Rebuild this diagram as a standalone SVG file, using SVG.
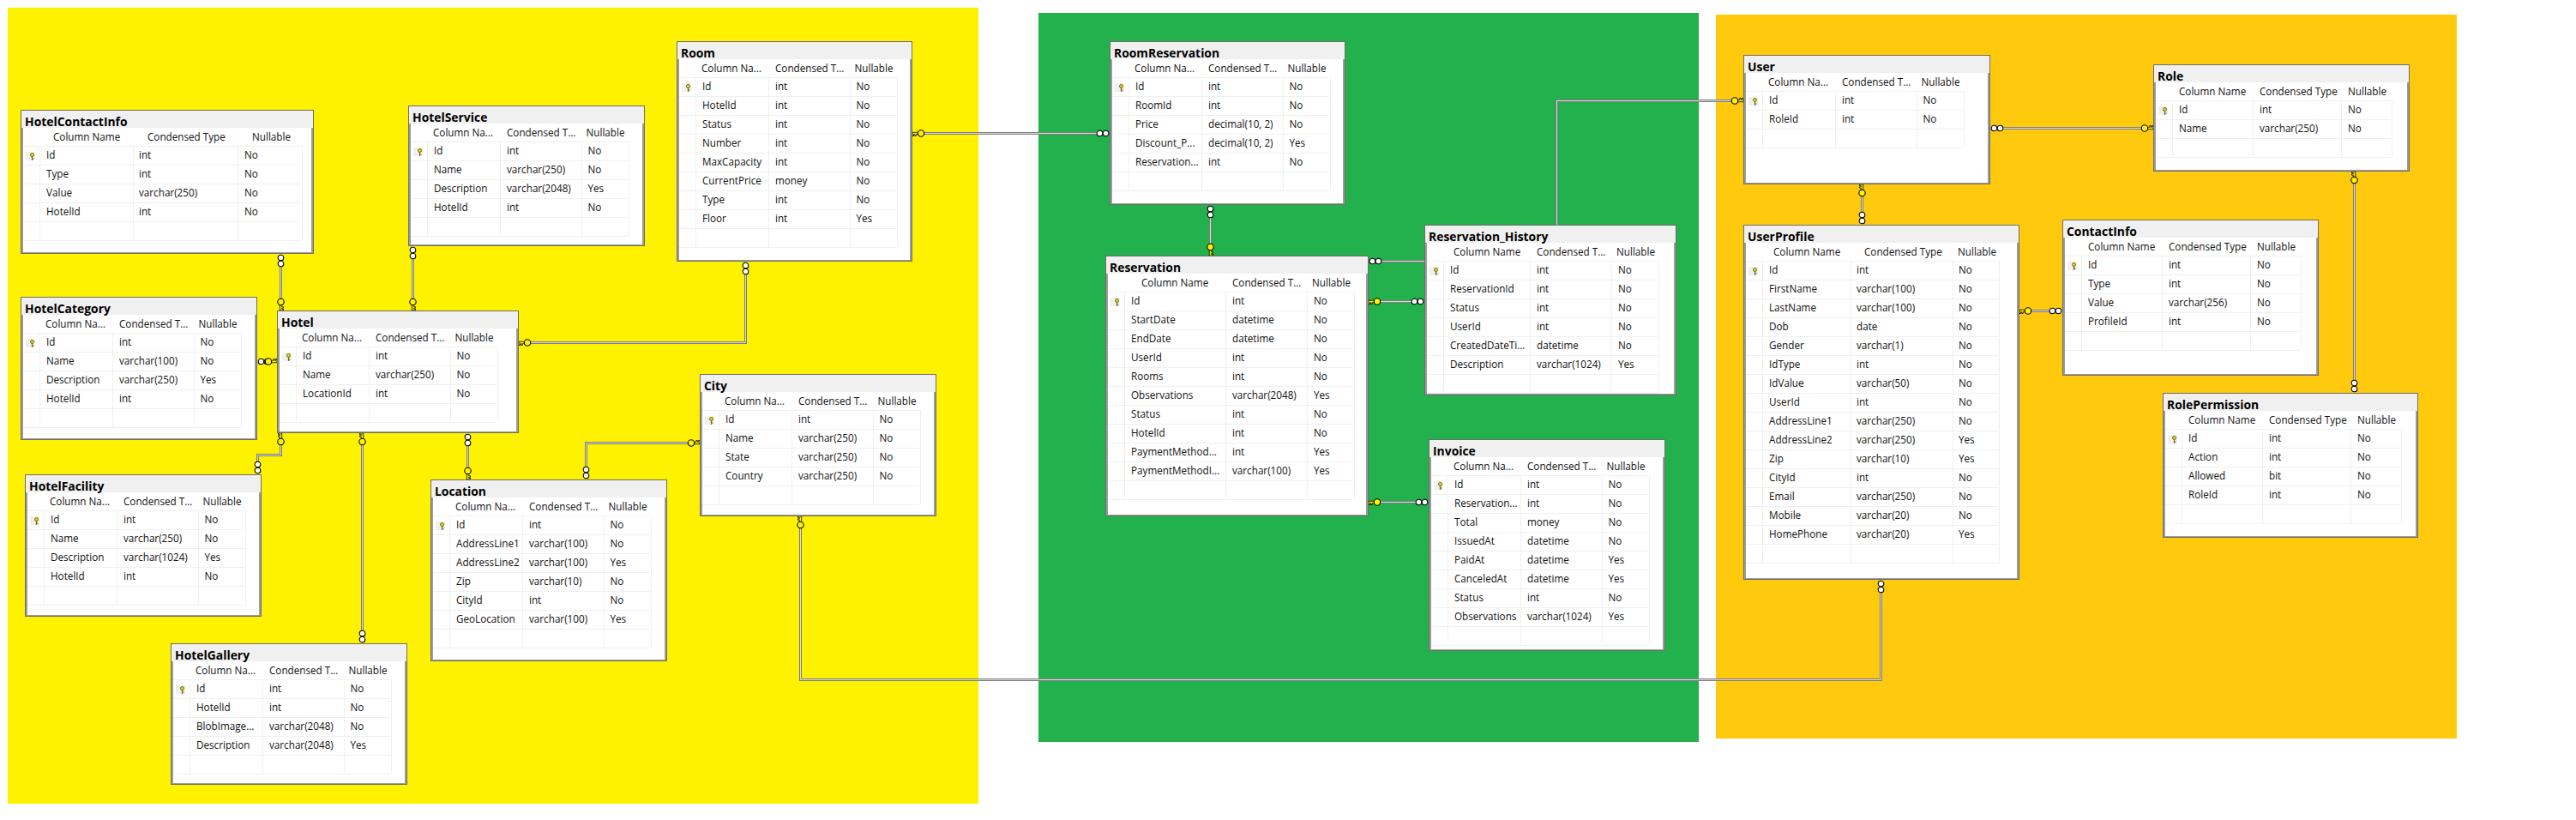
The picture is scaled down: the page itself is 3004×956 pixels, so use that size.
<svg xmlns="http://www.w3.org/2000/svg" width="3004" height="956" viewBox="0 0 3004 956">
<style>
text{font-family:"Open Sans","Liberation Sans",Arial,sans-serif;font-size:11.7px;fill:#111}
text.n{font-size:13.9px;font-weight:bold;fill:#000}
.o{fill:#9c9c9c;stroke:#6e6e6e;stroke-width:1;shape-rendering:crispEdges}
.tb{fill:#f0f0f0;shape-rendering:crispEdges}
.b{fill:#fff;shape-rendering:crispEdges}
.g{fill:none;stroke:#f0f0f0;stroke-width:1;shape-rendering:crispEdges}
.wo path{fill:none;stroke:#7c7c7c;stroke-width:3}
.wi path{fill:none;stroke:#dcdcdc;stroke-width:1}
</style>
<defs>
<g id="pk"><rect x="6" y="49" width="11" height="10" fill="#f0f0f0"/><circle cx="13.5" cy="52.5" r="2" fill="#e8d800" stroke="#6b6b10" stroke-width="1"/><path d="M13.5 54.5V59M13.5 57H15.5" fill="none" stroke="#6b6b10" stroke-width="1.2"/></g>
<g id="inf"><circle cx="4.5" cy="0" r="3.3" fill="#fff" stroke="#000" stroke-width="1.1"/><circle cx="11.5" cy="0" r="3.3" fill="#fff" stroke="#000" stroke-width="1.1"/></g>
<g id="key"><path d="M0 -1.2H6.5V1.2H4.2V3H2.8V1.2H1.6V3H0Z" fill="#fff200" stroke="#000" stroke-width=".8"/><circle cx="10" cy="0" r="3.7" fill="#fff200" stroke="#000" stroke-width="1.1"/></g>
</defs>
<rect width="3004" height="956" fill="#fff"/>
<g id="areas">
<rect x="9" y="9" width="1132" height="928" fill="#fff200"/>
<rect x="1211" y="15" width="770" height="850" fill="#22b14c"/>
<rect x="2001" y="17" width="864" height="844" fill="#ffc90e"/>
</g>
<g id="connectors">
<g class="wo">
<path d="M327.5 311V348.5"/><path d="M481.5 302V348.5"/><path d="M304 421.5H312"/><path d="M869.5 320V399.5H618.5"/><path d="M327.5 518.5V530.5H300.5V538"/><path d="M422.5 518.5V735"/><path d="M545.5 520V545.5"/><path d="M683.5 544V516.5H803"/><path d="M933.5 615.5V792.5H2193.5V691"/><path d="M1077.5 155.5H1279.5"/><path d="M1411.5 254V284.5"/><path d="M1611.5 304.5H1815.5V117.5H2020"/><path d="M1610 351.5H1646.5"/><path d="M1610 585.5H1651.5"/><path d="M2171.5 228.5V247"/><path d="M2335.5 149.5H2497.5"/><path d="M2368 362.5H2390.5"/><path d="M2745.5 213.5V443"/>
</g>
<g class="wi">
<path d="M327.5 311V348.5"/><path d="M481.5 302V348.5"/><path d="M304 421.5H312"/><path d="M869.5 320V399.5H618.5"/><path d="M327.5 518.5V530.5H300.5V538"/><path d="M422.5 518.5V735"/><path d="M545.5 520V545.5"/><path d="M683.5 544V516.5H803"/><path d="M933.5 615.5V792.5H2193.5V691"/><path d="M1077.5 155.5H1279.5"/><path d="M1411.5 254V284.5"/><path d="M1611.5 304.5H1815.5V117.5H2020"/><path d="M1610 351.5H1646.5"/><path d="M1610 585.5H1651.5"/><path d="M2171.5 228.5V247"/><path d="M2335.5 149.5H2497.5"/><path d="M2368 362.5H2390.5"/><path d="M2745.5 213.5V443"/>
</g>
<use href="#inf" transform="translate(327.5,296) rotate(90)"/><use href="#key" transform="translate(327.5,362) rotate(-90)"/>
<use href="#inf" transform="translate(481.5,287) rotate(90)"/><use href="#key" transform="translate(481.5,362) rotate(-90)"/>
<use href="#inf" transform="translate(300,421.5)"/><use href="#key" transform="translate(323,421.5) rotate(180)"/>
<use href="#inf" transform="translate(869.5,305) rotate(90)"/><use href="#key" transform="translate(605,399.5)"/>
<use href="#key" transform="translate(327.5,505) rotate(90)"/><use href="#inf" transform="translate(300.5,553) rotate(-90)"/>
<use href="#key" transform="translate(422.5,505) rotate(90)"/><use href="#inf" transform="translate(422.5,750) rotate(-90)"/>
<use href="#inf" transform="translate(545.5,505) rotate(90)"/><use href="#key" transform="translate(545.5,559) rotate(-90)"/>
<use href="#inf" transform="translate(683.5,559) rotate(-90)"/><use href="#key" transform="translate(816,516.5) rotate(180)"/>
<use href="#key" transform="translate(933.5,602) rotate(90)"/><use href="#inf" transform="translate(2193.5,676) rotate(90)"/>
<use href="#key" transform="translate(1064,155.5)"/><use href="#inf" transform="translate(1294,155.5) rotate(180)"/>
<use href="#inf" transform="translate(1411.5,239) rotate(90)"/><use href="#key" transform="translate(1411.5,298) rotate(-90)"/>
<use href="#inf" transform="translate(1596,304.5)"/><use href="#key" transform="translate(2033,117.5) rotate(180)"/>
<use href="#key" transform="translate(1596,351.5)"/><use href="#inf" transform="translate(1661,351.5) rotate(180)"/>
<use href="#key" transform="translate(1596,585.5)"/><use href="#inf" transform="translate(1666,585.5) rotate(180)"/>
<use href="#key" transform="translate(2171.5,215) rotate(90)"/><use href="#inf" transform="translate(2171.5,262) rotate(-90)"/>
<use href="#inf" transform="translate(2321,149.5)"/><use href="#key" transform="translate(2511,149.5) rotate(180)"/>
<use href="#key" transform="translate(2355,362.5)"/><use href="#inf" transform="translate(2405,362.5) rotate(180)"/>
<use href="#key" transform="translate(2745.5,200) rotate(90)"/><use href="#inf" transform="translate(2745.5,458) rotate(-90)"/>
</g>

<g id="HotelContactInfo" transform="translate(24,128)">
<rect class="o" x=".5" y=".5" width="341" height="167"/><rect class="tb" x="1" y="1" width="340" height="20"/><rect class="b" x="3" y="21" width="336" height="145"/>
<path class="g" d="M3 42.5H327M3 64.5H327M3 86.5H327M3 108.5H327M3 130.5H327M3 152.5H327M22.5 42V152M131.5 42V152M253.5 42V152M328.5 42V152"/><use href="#pk"/>
<text class="n" x="5" y="18.7">HotelContactInfo</text>
<text x="38" y="36">Column Name</text><text x="148" y="36">Condensed Type</text><text x="270" y="36">Nullable</text>
<text x="30" y="57">Id</text><text x="138" y="57">int</text><text x="261" y="57">No</text>
<text x="30" y="79">Type</text><text x="138" y="79">int</text><text x="261" y="79">No</text>
<text x="30" y="101">Value</text><text x="138" y="101">varchar(250)</text><text x="261" y="101">No</text>
<text x="30" y="123">HotelId</text><text x="138" y="123">int</text><text x="261" y="123">No</text>
</g>

<g id="HotelService" transform="translate(476,123)">
<rect class="o" x=".5" y=".5" width="275" height="163"/><rect class="tb" x="1" y="1" width="274" height="20"/><rect class="b" x="3" y="21" width="270" height="141"/>
<path class="g" d="M3 42.5H256M3 64.5H256M3 86.5H256M3 108.5H256M3 130.5H256M3 152.5H256M22.5 42V152M107.5 42V152M202.5 42V152M257.5 42V152"/><use href="#pk"/>
<text class="n" x="5" y="18.7">HotelService</text>
<text x="29" y="36">Column Na...</text><text x="115" y="36">Condensed T...</text><text x="207.5" y="36">Nullable</text>
<text x="30" y="57">Id</text><text x="115" y="57">int</text><text x="209.5" y="57">No</text>
<text x="30" y="79">Name</text><text x="115" y="79">varchar(250)</text><text x="209.5" y="79">No</text>
<text x="30" y="101">Description</text><text x="115" y="101">varchar(2048)</text><text x="209.5" y="101">Yes</text>
<text x="30" y="123">HotelId</text><text x="115" y="123">int</text><text x="209.5" y="123">No</text>
</g>

<g id="HotelCategory" transform="translate(24,346)">
<rect class="o" x=".5" y=".5" width="275" height="166"/><rect class="tb" x="1" y="1" width="274" height="20"/><rect class="b" x="3" y="21" width="270" height="144"/>
<path class="g" d="M3 42.5H256M3 64.5H256M3 86.5H256M3 108.5H256M3 130.5H256M3 152.5H256M22.5 42V152M107.5 42V152M202.5 42V152M257.5 42V152"/><use href="#pk"/>
<text class="n" x="5" y="18.7">HotelCategory</text>
<text x="29" y="36">Column Na...</text><text x="115" y="36">Condensed T...</text><text x="207.5" y="36">Nullable</text>
<text x="30" y="57">Id</text><text x="115" y="57">int</text><text x="209.5" y="57">No</text>
<text x="30" y="79">Name</text><text x="115" y="79">varchar(100)</text><text x="209.5" y="79">No</text>
<text x="30" y="101">Description</text><text x="115" y="101">varchar(250)</text><text x="209.5" y="101">Yes</text>
<text x="30" y="123">HotelId</text><text x="115" y="123">int</text><text x="209.5" y="123">No</text>
</g>

<g id="Hotel" transform="translate(323,362)">
<rect class="o" x=".5" y=".5" width="281" height="142"/><rect class="tb" x="1" y="1" width="280" height="20"/><rect class="b" x="3" y="21" width="276" height="120"/>
<path class="g" d="M3 42.5H256M3 64.5H256M3 86.5H256M3 108.5H256M3 130.5H256M22.5 42V130M107.5 42V130M202.5 42V130M257.5 42V130"/><use href="#pk"/>
<text class="n" x="5" y="18.7">Hotel</text>
<text x="29" y="36">Column Na...</text><text x="115" y="36">Condensed T...</text><text x="207.5" y="36">Nullable</text>
<text x="30" y="57">Id</text><text x="115" y="57">int</text><text x="209.5" y="57">No</text>
<text x="30" y="79">Name</text><text x="115" y="79">varchar(250)</text><text x="209.5" y="79">No</text>
<text x="30" y="101">LocationId</text><text x="115" y="101">int</text><text x="209.5" y="101">No</text>
</g>

<g id="HotelFacility" transform="translate(29,553)">
<rect class="o" x=".5" y=".5" width="275" height="165"/><rect class="tb" x="1" y="1" width="274" height="20"/><rect class="b" x="3" y="21" width="270" height="143"/>
<path class="g" d="M3 42.5H256M3 64.5H256M3 86.5H256M3 108.5H256M3 130.5H256M3 152.5H256M22.5 42V152M107.5 42V152M202.5 42V152M257.5 42V152"/><use href="#pk"/>
<text class="n" x="5" y="18.7">HotelFacility</text>
<text x="29" y="36">Column Na...</text><text x="115" y="36">Condensed T...</text><text x="207.5" y="36">Nullable</text>
<text x="30" y="57">Id</text><text x="115" y="57">int</text><text x="209.5" y="57">No</text>
<text x="30" y="79">Name</text><text x="115" y="79">varchar(250)</text><text x="209.5" y="79">No</text>
<text x="30" y="101">Description</text><text x="115" y="101">varchar(1024)</text><text x="209.5" y="101">Yes</text>
<text x="30" y="123">HotelId</text><text x="115" y="123">int</text><text x="209.5" y="123">No</text>
</g>

<g id="Location" transform="translate(502,559)">
<rect class="o" x=".5" y=".5" width="275" height="211"/><rect class="tb" x="1" y="1" width="274" height="20"/><rect class="b" x="3" y="21" width="270" height="189"/>
<path class="g" d="M3 42.5H256M3 64.5H256M3 86.5H256M3 108.5H256M3 130.5H256M3 152.5H256M3 174.5H256M3 196.5H256M22.5 42V196M107.5 42V196M202.5 42V196M257.5 42V196"/><use href="#pk"/>
<text class="n" x="5" y="18.7">Location</text>
<text x="29" y="36">Column Na...</text><text x="115" y="36">Condensed T...</text><text x="207.5" y="36">Nullable</text>
<text x="30" y="57">Id</text><text x="115" y="57">int</text><text x="209.5" y="57">No</text>
<text x="30" y="79">AddressLine1</text><text x="115" y="79">varchar(100)</text><text x="209.5" y="79">No</text>
<text x="30" y="101">AddressLine2</text><text x="115" y="101">varchar(100)</text><text x="209.5" y="101">Yes</text>
<text x="30" y="123">Zip</text><text x="115" y="123">varchar(10)</text><text x="209.5" y="123">No</text>
<text x="30" y="145">CityId</text><text x="115" y="145">int</text><text x="209.5" y="145">No</text>
<text x="30" y="167">GeoLocation</text><text x="115" y="167">varchar(100)</text><text x="209.5" y="167">Yes</text>
</g>

<g id="HotelGallery" transform="translate(199,750)">
<rect class="o" x=".5" y=".5" width="275" height="164"/><rect class="tb" x="1" y="1" width="274" height="20"/><rect class="b" x="3" y="21" width="270" height="142"/>
<path class="g" d="M3 42.5H256M3 64.5H256M3 86.5H256M3 108.5H256M3 130.5H256M3 152.5H256M22.5 42V152M107.5 42V152M202.5 42V152M257.5 42V152"/><use href="#pk"/>
<text class="n" x="5" y="18.7">HotelGallery</text>
<text x="29" y="36">Column Na...</text><text x="115" y="36">Condensed T...</text><text x="207.5" y="36">Nullable</text>
<text x="30" y="57">Id</text><text x="115" y="57">int</text><text x="209.5" y="57">No</text>
<text x="30" y="79">HotelId</text><text x="115" y="79">int</text><text x="209.5" y="79">No</text>
<text x="30" y="101">BlobImage...</text><text x="115" y="101">varchar(2048)</text><text x="209.5" y="101">No</text>
<text x="30" y="123">Description</text><text x="115" y="123">varchar(2048)</text><text x="209.5" y="123">Yes</text>
</g>

<g id="Room" transform="translate(789,48)">
<rect class="o" x=".5" y=".5" width="274" height="256"/><rect class="tb" x="1" y="1" width="273" height="20"/><rect class="b" x="3" y="21" width="269" height="234"/>
<path class="g" d="M3 42.5H256M3 64.5H256M3 86.5H256M3 108.5H256M3 130.5H256M3 152.5H256M3 174.5H256M3 196.5H256M3 218.5H256M3 240.5H256M22.5 42V240M107.5 42V240M202.5 42V240M257.5 42V240"/><use href="#pk"/>
<text class="n" x="5" y="18.7">Room</text>
<text x="29" y="36">Column Na...</text><text x="115" y="36">Condensed T...</text><text x="207.5" y="36">Nullable</text>
<text x="30" y="57">Id</text><text x="115" y="57">int</text><text x="209.5" y="57">No</text>
<text x="30" y="79">HotelId</text><text x="115" y="79">int</text><text x="209.5" y="79">No</text>
<text x="30" y="101">Status</text><text x="115" y="101">int</text><text x="209.5" y="101">No</text>
<text x="30" y="123">Number</text><text x="115" y="123">int</text><text x="209.5" y="123">No</text>
<text x="30" y="145">MaxCapacity</text><text x="115" y="145">int</text><text x="209.5" y="145">No</text>
<text x="30" y="167">CurrentPrice</text><text x="115" y="167">money</text><text x="209.5" y="167">No</text>
<text x="30" y="189">Type</text><text x="115" y="189">int</text><text x="209.5" y="189">No</text>
<text x="30" y="211">Floor</text><text x="115" y="211">int</text><text x="209.5" y="211">Yes</text>
</g>

<g id="City" transform="translate(816,436)">
<rect class="o" x=".5" y=".5" width="275" height="165"/><rect class="tb" x="1" y="1" width="274" height="20"/><rect class="b" x="3" y="21" width="270" height="143"/>
<path class="g" d="M3 42.5H256M3 64.5H256M3 86.5H256M3 108.5H256M3 130.5H256M3 152.5H256M22.5 42V152M107.5 42V152M202.5 42V152M257.5 42V152"/><use href="#pk"/>
<text class="n" x="5" y="18.7">City</text>
<text x="29" y="36">Column Na...</text><text x="115" y="36">Condensed T...</text><text x="207.5" y="36">Nullable</text>
<text x="30" y="57">Id</text><text x="115" y="57">int</text><text x="209.5" y="57">No</text>
<text x="30" y="79">Name</text><text x="115" y="79">varchar(250)</text><text x="209.5" y="79">No</text>
<text x="30" y="101">State</text><text x="115" y="101">varchar(250)</text><text x="209.5" y="101">No</text>
<text x="30" y="123">Country</text><text x="115" y="123">varchar(250)</text><text x="209.5" y="123">No</text>
</g>

<g id="RoomReservation" transform="translate(1294,48)">
<rect class="o" x=".5" y=".5" width="274" height="190"/><rect class="tb" x="1" y="1" width="273" height="20"/><rect class="b" x="3" y="21" width="269" height="168"/>
<path class="g" d="M3 42.5H256M3 64.5H256M3 86.5H256M3 108.5H256M3 130.5H256M3 152.5H256M3 174.5H256M22.5 42V174M107.5 42V174M202.5 42V174M257.5 42V174"/><use href="#pk"/>
<text class="n" x="5" y="18.7">RoomReservation</text>
<text x="29" y="36">Column Na...</text><text x="115" y="36">Condensed T...</text><text x="207.5" y="36">Nullable</text>
<text x="30" y="57">Id</text><text x="115" y="57">int</text><text x="209.5" y="57">No</text>
<text x="30" y="79">RoomId</text><text x="115" y="79">int</text><text x="209.5" y="79">No</text>
<text x="30" y="101">Price</text><text x="115" y="101">decimal(10, 2)</text><text x="209.5" y="101">No</text>
<text x="30" y="123">Discount_P...</text><text x="115" y="123">decimal(10, 2)</text><text x="209.5" y="123">Yes</text>
<text x="30" y="145">Reservation...</text><text x="115" y="145">int</text><text x="209.5" y="145">No</text>
</g>

<g id="Reservation" transform="translate(1289,298)">
<rect class="o" x=".5" y=".5" width="306" height="303"/><rect class="tb" x="1" y="1" width="305" height="20"/><rect class="b" x="3" y="21" width="301" height="281"/>
<path class="g" d="M3 42.5H289M3 64.5H289M3 86.5H289M3 108.5H289M3 130.5H289M3 152.5H289M3 174.5H289M3 196.5H289M3 218.5H289M3 240.5H289M3 262.5H289M3 284.5H289M22.5 42V284M140.5 42V284M235.5 42V284M290.5 42V284"/><use href="#pk"/>
<text class="n" x="5" y="18.7">Reservation</text>
<text x="42" y="36">Column Name</text><text x="148" y="36">Condensed T...</text><text x="241" y="36">Nullable</text>
<text x="30" y="57">Id</text><text x="148" y="57">int</text><text x="243" y="57">No</text>
<text x="30" y="79">StartDate</text><text x="148" y="79">datetime</text><text x="243" y="79">No</text>
<text x="30" y="101">EndDate</text><text x="148" y="101">datetime</text><text x="243" y="101">No</text>
<text x="30" y="123">UserId</text><text x="148" y="123">int</text><text x="243" y="123">No</text>
<text x="30" y="145">Rooms</text><text x="148" y="145">int</text><text x="243" y="145">No</text>
<text x="30" y="167">Observations</text><text x="148" y="167">varchar(2048)</text><text x="243" y="167">Yes</text>
<text x="30" y="189">Status</text><text x="148" y="189">int</text><text x="243" y="189">No</text>
<text x="30" y="211">HotelId</text><text x="148" y="211">int</text><text x="243" y="211">No</text>
<text x="30" y="233">PaymentMethod...</text><text x="148" y="233">int</text><text x="243" y="233">Yes</text>
<text x="30" y="255">PaymentMethodI...</text><text x="148" y="255">varchar(100)</text><text x="243" y="255">Yes</text>
</g>

<g id="Reservation_History" transform="translate(1661,262)">
<rect class="o" x=".5" y=".5" width="293" height="198"/><rect class="tb" x="1" y="1" width="292" height="20"/><rect class="b" x="3" y="21" width="288" height="176"/>
<path class="g" d="M3 42.5H272M3 64.5H272M3 86.5H272M3 108.5H272M3 130.5H272M3 152.5H272M3 174.5H272M3 196.5H272M22.5 42V196M123.5 42V196M218.5 42V196M273.5 42V196"/><use href="#pk"/>
<text class="n" x="5" y="18.7">Reservation_History</text>
<text x="34" y="36">Column Name</text><text x="131" y="36">Condensed T...</text><text x="224" y="36">Nullable</text>
<text x="30" y="57">Id</text><text x="131" y="57">int</text><text x="226" y="57">No</text>
<text x="30" y="79">ReservationId</text><text x="131" y="79">int</text><text x="226" y="79">No</text>
<text x="30" y="101">Status</text><text x="131" y="101">int</text><text x="226" y="101">No</text>
<text x="30" y="123">UserId</text><text x="131" y="123">int</text><text x="226" y="123">No</text>
<text x="30" y="145">CreatedDateTi...</text><text x="131" y="145">datetime</text><text x="226" y="145">No</text>
<text x="30" y="167">Description</text><text x="131" y="167">varchar(1024)</text><text x="226" y="167">Yes</text>
</g>

<g id="Invoice" transform="translate(1666,512)">
<rect class="o" x=".5" y=".5" width="275" height="246"/><rect class="tb" x="1" y="1" width="274" height="20"/><rect class="b" x="3" y="21" width="270" height="224"/>
<path class="g" d="M3 42.5H256M3 64.5H256M3 86.5H256M3 108.5H256M3 130.5H256M3 152.5H256M3 174.5H256M3 196.5H256M3 218.5H256M3 240.5H256M22.5 42V240M107.5 42V240M202.5 42V240M257.5 42V240"/><use href="#pk"/>
<text class="n" x="5" y="18.7">Invoice</text>
<text x="29" y="36">Column Na...</text><text x="115" y="36">Condensed T...</text><text x="207.5" y="36">Nullable</text>
<text x="30" y="57">Id</text><text x="115" y="57">int</text><text x="209.5" y="57">No</text>
<text x="30" y="79">Reservation...</text><text x="115" y="79">int</text><text x="209.5" y="79">No</text>
<text x="30" y="101">Total</text><text x="115" y="101">money</text><text x="209.5" y="101">No</text>
<text x="30" y="123">IssuedAt</text><text x="115" y="123">datetime</text><text x="209.5" y="123">No</text>
<text x="30" y="145">PaidAt</text><text x="115" y="145">datetime</text><text x="209.5" y="145">Yes</text>
<text x="30" y="167">CanceledAt</text><text x="115" y="167">datetime</text><text x="209.5" y="167">Yes</text>
<text x="30" y="189">Status</text><text x="115" y="189">int</text><text x="209.5" y="189">No</text>
<text x="30" y="211">Observations</text><text x="115" y="211">varchar(1024)</text><text x="209.5" y="211">Yes</text>
</g>

<g id="User" transform="translate(2033,64)">
<rect class="o" x=".5" y=".5" width="287" height="150"/><rect class="tb" x="1" y="1" width="286" height="20"/><rect class="b" x="3" y="21" width="282" height="128"/>
<path class="g" d="M3 42.5H256M3 64.5H256M3 86.5H256M3 108.5H256M22.5 42V108M107.5 42V108M202.5 42V108M257.5 42V108"/><use href="#pk"/>
<text class="n" x="5" y="18.7">User</text>
<text x="29" y="36">Column Na...</text><text x="115" y="36">Condensed T...</text><text x="207.5" y="36">Nullable</text>
<text x="30" y="57">Id</text><text x="115" y="57">int</text><text x="209.5" y="57">No</text>
<text x="30" y="79">RoleId</text><text x="115" y="79">int</text><text x="209.5" y="79">No</text>
</g>

<g id="UserProfile" transform="translate(2033,262)">
<rect class="o" x=".5" y=".5" width="321" height="413"/><rect class="tb" x="1" y="1" width="320" height="20"/><rect class="b" x="3" y="21" width="316" height="391"/>
<path class="g" d="M3 42.5H297M3 64.5H297M3 86.5H297M3 108.5H297M3 130.5H297M3 152.5H297M3 174.5H297M3 196.5H297M3 218.5H297M3 240.5H297M3 262.5H297M3 284.5H297M3 306.5H297M3 328.5H297M3 350.5H297M3 372.5H297M3 394.5H297M22.5 42V394M125.5 42V394M244.5 42V394M298.5 42V394"/><use href="#pk"/>
<text class="n" x="5" y="18.7">UserProfile</text>
<text x="35" y="36">Column Name</text><text x="141" y="36">Condensed Type</text><text x="250" y="36">Nullable</text>
<text x="30" y="57">Id</text><text x="132" y="57">int</text><text x="251" y="57">No</text>
<text x="30" y="79">FirstName</text><text x="132" y="79">varchar(100)</text><text x="251" y="79">No</text>
<text x="30" y="101">LastName</text><text x="132" y="101">varchar(100)</text><text x="251" y="101">No</text>
<text x="30" y="123">Dob</text><text x="132" y="123">date</text><text x="251" y="123">No</text>
<text x="30" y="145">Gender</text><text x="132" y="145">varchar(1)</text><text x="251" y="145">No</text>
<text x="30" y="167">IdType</text><text x="132" y="167">int</text><text x="251" y="167">No</text>
<text x="30" y="189">IdValue</text><text x="132" y="189">varchar(50)</text><text x="251" y="189">No</text>
<text x="30" y="211">UserId</text><text x="132" y="211">int</text><text x="251" y="211">No</text>
<text x="30" y="233">AddressLine1</text><text x="132" y="233">varchar(250)</text><text x="251" y="233">No</text>
<text x="30" y="255">AddressLine2</text><text x="132" y="255">varchar(250)</text><text x="251" y="255">Yes</text>
<text x="30" y="277">Zip</text><text x="132" y="277">varchar(10)</text><text x="251" y="277">Yes</text>
<text x="30" y="299">CityId</text><text x="132" y="299">int</text><text x="251" y="299">No</text>
<text x="30" y="321">Email</text><text x="132" y="321">varchar(250)</text><text x="251" y="321">No</text>
<text x="30" y="343">Mobile</text><text x="132" y="343">varchar(20)</text><text x="251" y="343">No</text>
<text x="30" y="365">HomePhone</text><text x="132" y="365">varchar(20)</text><text x="251" y="365">Yes</text>
</g>

<g id="ContactInfo" transform="translate(2405,256)">
<rect class="o" x=".5" y=".5" width="298" height="181"/><rect class="tb" x="1" y="1" width="297" height="20"/><rect class="b" x="3" y="21" width="293" height="159"/>
<path class="g" d="M3 42.5H277M3 64.5H277M3 86.5H277M3 108.5H277M3 130.5H277M3 152.5H277M22.5 42V152M116.5 42V152M219.5 42V152M278.5 42V152"/><use href="#pk"/>
<text class="n" x="5" y="18.7">ContactInfo</text>
<text x="30" y="36">Column Name</text><text x="124" y="36">Condensed Type</text><text x="227" y="36">Nullable</text>
<text x="30" y="57">Id</text><text x="124" y="57">int</text><text x="227" y="57">No</text>
<text x="30" y="79">Type</text><text x="124" y="79">int</text><text x="227" y="79">No</text>
<text x="30" y="101">Value</text><text x="124" y="101">varchar(256)</text><text x="227" y="101">No</text>
<text x="30" y="123">ProfileId</text><text x="124" y="123">int</text><text x="227" y="123">No</text>
</g>

<g id="Role" transform="translate(2511,75)">
<rect class="o" x=".5" y=".5" width="298" height="124"/><rect class="tb" x="1" y="1" width="297" height="20"/><rect class="b" x="3" y="21" width="293" height="102"/>
<path class="g" d="M3 42.5H277M3 64.5H277M3 86.5H277M3 108.5H277M22.5 42V108M116.5 42V108M219.5 42V108M278.5 42V108"/><use href="#pk"/>
<text class="n" x="5" y="18.7">Role</text>
<text x="30" y="36">Column Name</text><text x="124" y="36">Condensed Type</text><text x="227" y="36">Nullable</text>
<text x="30" y="57">Id</text><text x="124" y="57">int</text><text x="227" y="57">No</text>
<text x="30" y="79">Name</text><text x="124" y="79">varchar(250)</text><text x="227" y="79">No</text>
</g>

<g id="RolePermission" transform="translate(2522,458)">
<rect class="o" x=".5" y=".5" width="297" height="168"/><rect class="tb" x="1" y="1" width="296" height="20"/><rect class="b" x="3" y="21" width="292" height="146"/>
<path class="g" d="M3 42.5H277M3 64.5H277M3 86.5H277M3 108.5H277M3 130.5H277M3 152.5H277M22.5 42V152M116.5 42V152M219.5 42V152M278.5 42V152"/><use href="#pk"/>
<text class="n" x="5" y="18.7">RolePermission</text>
<text x="30" y="36">Column Name</text><text x="124" y="36">Condensed Type</text><text x="227" y="36">Nullable</text>
<text x="30" y="57">Id</text><text x="124" y="57">int</text><text x="227" y="57">No</text>
<text x="30" y="79">Action</text><text x="124" y="79">int</text><text x="227" y="79">No</text>
<text x="30" y="101">Allowed</text><text x="124" y="101">bit</text><text x="227" y="101">No</text>
<text x="30" y="123">RoleId</text><text x="124" y="123">int</text><text x="227" y="123">No</text>
</g>
</svg>
